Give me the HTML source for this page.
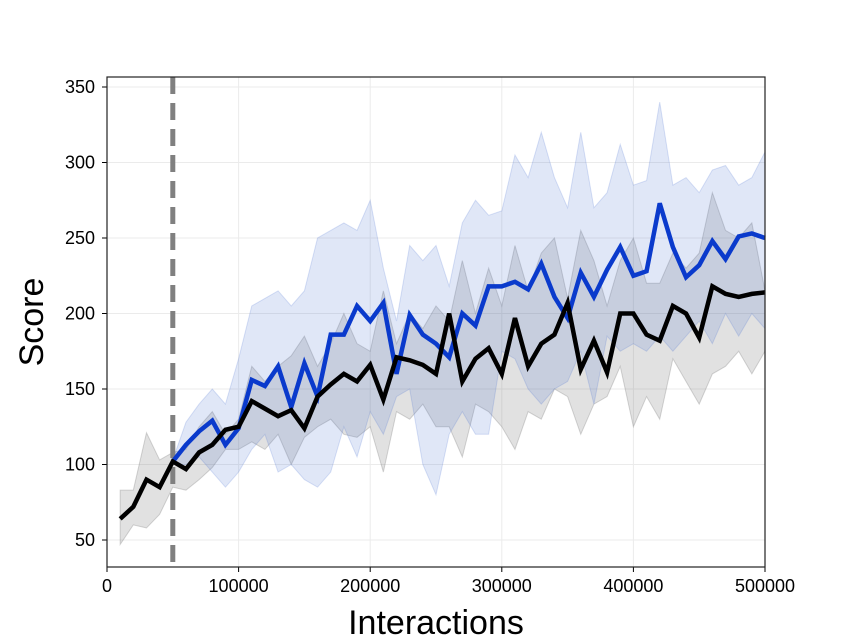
<!DOCTYPE html>
<html><head><meta charset="utf-8"><style>
body{margin:0;background:#fff;font-family:"Liberation Sans",sans-serif}
</style></head><body>
<svg id="chart" width="850" height="638" xmlns="http://www.w3.org/2000/svg">
<g id="grid"></g>
<g id="bands"></g>
<g id="lines"></g>
<g id="axes"></g>
<text x="436" y="634" font-size="34" text-anchor="middle" font-family="Liberation Sans">Interactions</text>
<text transform="translate(43,322) rotate(-90)" font-size="34" text-anchor="middle" font-family="Liberation Sans">Score</text>
</svg>
<script>
const xTicks=[0,100000,200000,300000,400000,500000];
const yTicks=[50,100,150,200,250,300,350];
const blackX=[10000,20000,30000,40000,50000,60000,70000,80000,90000,100000,110000,120000,130000,140000,150000,160000,170000,180000,190000,200000,210000,220000,230000,240000,250000,260000,270000,280000,290000,300000,310000,320000,330000,340000,350000,360000,370000,380000,390000,400000,410000,420000,430000,440000,450000,460000,470000,480000,490000,500000];
const blackMean=[64,72,90,85,102,97,108,113,123,125,142,137,132,136,124,145,153,160,155,166,143,171,169,166,160,200,155,170,177,160,197,165,180,186,207,163,182,161,200,200,186,182,205,200,184,218,213,211,213,214];
const blackUpper=[83,83,121,103,108,110,125,135,120,130,165,155,165,172,185,165,180,200,180,175,215,180,200,190,205,195,235,200,230,205,245,215,240,250,210,255,235,205,235,250,220,220,240,230,240,280,255,250,260,215];
const blackLower=[47,60,58,67,85,83,90,98,110,110,115,110,120,100,118,125,130,120,118,125,95,135,130,140,125,125,105,140,135,125,110,135,130,150,145,120,140,145,165,125,145,130,170,155,140,160,165,175,160,175];
const blueX=blackX.slice(4);
const blueMean=[102,113,122,129,113,124,156,152,165,138,167,145,186,186,205,195,207,160,199,186,180,171,200,192,218,218,221,216,233,211,197,227,211,229,244,225,228,273,244,224,232,248,236,251,253,250];
const blueUpper=[103,128,140,150,140,170,205,210,215,205,215,250,255,260,255,275,230,195,245,235,245,218,260,275,265,268,305,290,320,290,270,320,270,280,312,285,288,340,285,290,280,295,298,285,290,307];
const blueLower=[100,100,105,95,85,95,110,120,95,100,90,85,95,125,105,135,120,145,150,100,80,120,135,120,120,175,170,150,140,150,155,175,140,185,175,180,175,185,175,185,195,180,200,185,200,190];
const dashX=50000;

const L=107,R=765,T=77,B=567;
const sx=v=>L+(v/500000)*(R-L);
const sy=v=>540-(v-50)*(453/300);
const NS="http://www.w3.org/2000/svg";
function mk(tag,parent,attrs){const e=document.createElementNS(NS,tag);for(const k in attrs)e.setAttribute(k,attrs[k]);parent.appendChild(e);return e;}
const grid=document.getElementById('grid'),bands=document.getElementById('bands'),lines=document.getElementById('lines'),axes=document.getElementById('axes');
xTicks.forEach(t=>{
  const g=mk('line',grid,{x1:sx(t),x2:sx(t),y1:T,y2:B,stroke:'#ebebeb','stroke-width':1});
  
  
  const tk=mk('line',axes,{x1:sx(t),x2:sx(t),y1:B,y2:B+5,stroke:'#000'});
  
  
  const tx=mk('text',axes,{x:sx(t),y:B+25,'font-size':18,'text-anchor':'middle'});
  tx.textContent=t;
  
  
});
yTicks.forEach(t=>{
  const g=mk('line',grid,{x1:L,x2:R,y1:sy(t),y2:sy(t),stroke:'#ebebeb','stroke-width':1});
  
  
  const tk=mk('line',axes,{x1:L-5,x2:L,y1:sy(t),y2:sy(t),stroke:'#000'});
  
  
  const tx=mk('text',axes,{x:L-12,y:sy(t)+6,'font-size':18,'text-anchor':'end'});
  tx.textContent=t;
  
  
});
function band(xs,up,lo,fill,stroke,name){
  let pts=xs.map((x,i)=>sx(x)+','+sy(up[i]));
  pts=pts.concat(xs.map((x,i)=>sx(x)+','+sy(lo[i])).reverse());
  const p=mk('polygon',bands,{points:pts.join(' '),fill:fill,stroke:stroke,'stroke-width':1});
  
  
}
band(blackX,blackUpper,blackLower,'rgba(120,120,120,0.22)','rgba(120,120,120,0.3)','black-band');
band(blueX,blueUpper,blueLower,'rgba(70,110,210,0.17)','rgba(70,110,210,0.2)','blue-band');
const dl=mk('line',lines,{x1:sx(dashX),x2:sx(dashX),y1:T,y2:B,stroke:'#808080','stroke-width':5,'stroke-dasharray':'17 9'});


function line(xs,ys,color,name){
  const p=mk('polyline',lines,{points:xs.map((x,i)=>sx(x)+','+sy(ys[i])).join(' '),fill:'none',stroke:color,'stroke-width':4.5,'stroke-linejoin':'miter'});
  
  
}
line(blueX,blueMean,'#0a3acc','blue-mean-line');
line(blackX,blackMean,'#000','black-mean-line');
const fr=mk('rect',axes,{x:L,y:T,width:R-L,height:B-T,fill:'none',stroke:'#222','stroke-width':1.2});


</script>
</body></html>
